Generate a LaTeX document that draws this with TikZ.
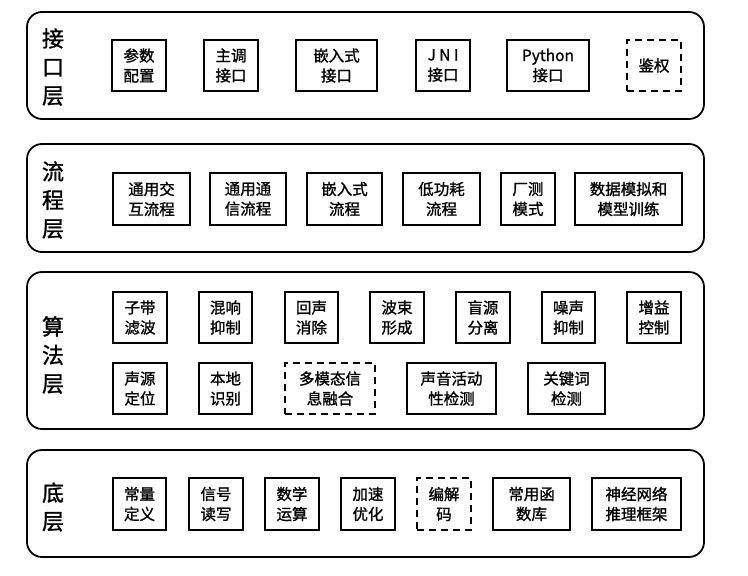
\documentclass[tikz,border=0pt]{standalone}
\usepackage{fontspec}
\setmainfont{Noto Sans CJK SC}
\newfontfamily\cjk{Noto Sans CJK SC}[FakeBold=1.2]
\begin{document}
\begin{tikzpicture}[x=1pt,y=-1pt,
  layer/.style={draw, line width=1.8pt, rounded corners=15pt},
  box/.style={draw, line width=1.8pt, inner sep=0pt, align=center, font=\cjk\fontsize{15.5}{20}\selectfont},
  dbox/.style={box, dashed, dash pattern=on 7pt off 5pt},
  lbl/.style={inner sep=0pt, align=center, font=\cjk\fontsize{22}{28.5}\selectfont}]
\useasboundingbox (0,0) rectangle (748,576);
\fill[white] (0,0) rectangle (748,576);
% layers
\draw[layer] (27,12) rectangle (704,119);
\draw[layer] (27,144) rectangle (704,252);
\draw[layer] (27,272) rectangle (704,429);
\draw[layer] (27,450) rectangle (704,557);
\node[lbl] (l1) at (53,67) {接\\口\\层};
\node[lbl] (l2) at (53,200) {流\\程\\层};
\node[lbl] (l3) at (53,355) {算\\法\\层};
\node[lbl] (l4) at (53,507) {底\\层};
% layer 1
\begin{scope}[every node/.append style={minimum height=51pt}]
\node[box, minimum width=54pt] (a1) at (139,65.5) {参数\\配置};
\node[box, minimum width=54pt] (a2) at (231,65.5) {主调\\接口};
\node[box, minimum width=81pt] (a3) at (336.5,65.5) {嵌入式\\接口};
\node[box, minimum width=54pt] (a4) at (443,65.5) {J N I\\接口};
\node[box, minimum width=82pt] (a5) at (548,65.5) {Python\\接口};
\node[dbox, minimum width=54pt] (a6) at (654,65.5) {鉴权};
\end{scope}
% layer 2
\begin{scope}[every node/.append style={minimum height=52pt}]
\node[box, minimum width=77pt] (b1) at (151.5,199) {通用交\\互流程};
\node[box, minimum width=76pt] (b2) at (248,199) {通用通\\信流程};
\node[box, minimum width=75pt] (b3) at (344.5,199) {嵌入式\\流程};
\node[box, minimum width=77pt] (b4) at (441.5,199) {低功耗\\流程};
\node[box, minimum width=54pt] (b5) at (528,199) {厂测\\模式};
\node[box, minimum width=107pt] (b6) at (628.5,199) {数据模拟和\\模型训练};
\end{scope}
% layer 3
\begin{scope}[every node/.append style={minimum height=51pt}]
\node[box, minimum width=54pt] (c1) at (140,317.5) {子带\\滤波};
\node[box, minimum width=53pt] (c2) at (225.5,317.5) {混响\\抑制};
\node[box, minimum width=53pt] (c3) at (311.5,317.5) {回声\\消除};
\node[box, minimum width=54pt] (c4) at (397,317.5) {波束\\形成};
\node[box, minimum width=54pt] (c5) at (483,317.5) {盲源\\分离};
\node[box, minimum width=53pt] (c6) at (568.5,317.5) {噪声\\抑制};
\node[box, minimum width=54pt] (c7) at (654,317.5) {增益\\控制};
\node[box, minimum width=54pt] (d1) at (140,388.5) {声源\\定位};
\node[box, minimum width=53pt] (d2) at (225.5,388.5) {本地\\识别};
\node[dbox, minimum width=90pt] (d3) at (330,388.5) {多模态信\\息融合};
\node[box, minimum width=89pt] (d4) at (451.5,388.5) {声音活动\\性检测};
\node[box, minimum width=77pt] (d5) at (566.5,388.5) {关键词\\检测};
\end{scope}
% layer 4
\begin{scope}[every node/.append style={minimum height=52pt}]
\node[box, minimum width=53pt] (e1) at (139.5,504) {常量\\定义};
\node[box, minimum width=54pt] (e2) at (216,504) {信号\\读写};
\node[box, minimum width=54pt] (e3) at (292,504) {数学\\运算};
\node[box, minimum width=54pt] (e4) at (368,504) {加速\\优化};
\node[dbox, minimum width=54pt] (e5) at (444,504) {编解\\码};
\node[box, minimum width=77pt] (e6) at (531.5,504) {常用函\\数库};
\node[box, minimum width=89pt] (e7) at (636.5,504) {神经网络\\推理框架};
\end{scope}
\end{tikzpicture}
\end{document}
